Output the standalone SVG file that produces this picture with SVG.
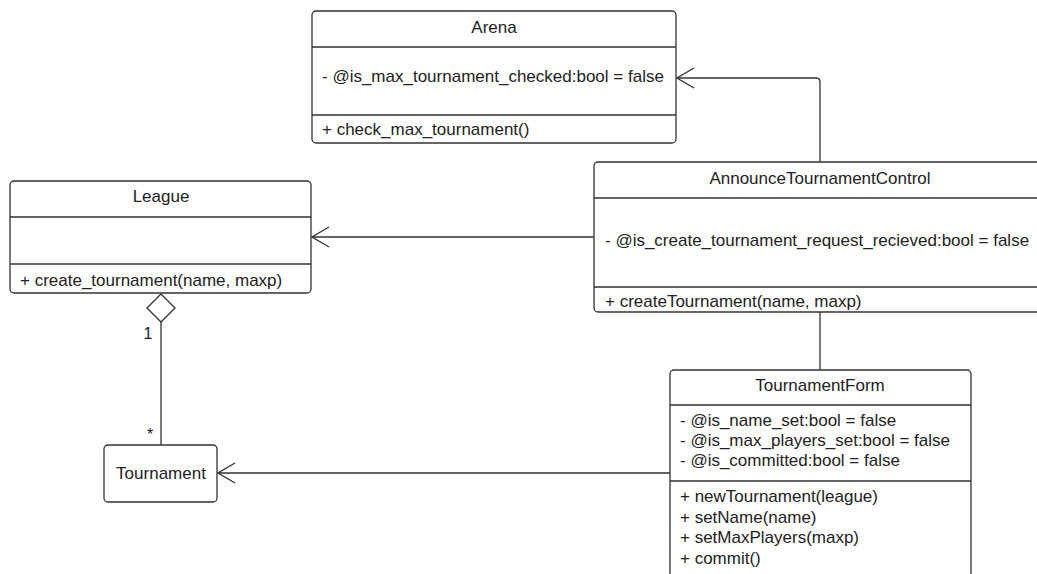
<svg xmlns="http://www.w3.org/2000/svg" width="1037" height="574" viewBox="0 0 1037 574">
  <style>
    .box { fill: #ffffff; stroke: #333333; stroke-width: 1.3; }
    .div { stroke: #333333; stroke-width: 1.3; }
    .edge { fill: none; stroke: #333333; stroke-width: 1.3; }
    text { font-family: "Liberation Sans", Arial, sans-serif; font-size: 17px; fill: #222222; }
    .c { text-anchor: middle; }
    .m { font-size: 16px; }
  </style>
  <defs>
    <!-- open association arrowhead, tip at the path end -->
    <marker id="open" viewBox="0 0 20 22" refX="19" refY="11" markerWidth="20" markerHeight="22" markerUnits="userSpaceOnUse" orient="auto">
      <path d="M2 1 L19 11 L2 21" fill="none" stroke="#333333" stroke-width="1.3"/>
    </marker>
  </defs>
  <rect width="1037" height="574" fill="#ffffff"/>

  <g id="connectors">
    <!-- AnnounceTournamentControl to Arena -->
    <path class="edge" d="M820 162 V82 Q820 78 816 78 H677" marker-end="url(#open)"/>
    <!-- AnnounceTournamentControl to League -->
    <path class="edge" d="M594 237 H312" marker-end="url(#open)"/>
    <!-- AnnounceTournamentControl to TournamentForm -->
    <path class="edge" d="M820 312 V370"/>
    <!-- TournamentForm to Tournament -->
    <path class="edge" d="M670 473 H218" marker-end="url(#open)"/>
    <!-- League aggregation of Tournament -->
    <path class="edge" d="M161 322 V445"/>
    <path class="box" d="M161 294 L175 308 L161 322 L147 308 Z"/>
    <text x="148" y="339" class="c m">1</text>
    <text x="150" y="440" class="c m">*</text>
  </g>

  <g id="arena">
    <rect class="box" x="312" y="11" width="364" height="132" rx="4"/>
    <line class="div" x1="312" y1="47" x2="676" y2="47"/>
    <line class="div" x1="312" y1="115" x2="676" y2="115"/>
    <text x="494" y="33" class="c">Arena</text>
    <text x="322" y="82">- @is_max_tournament_checked:bool = false</text>
    <text x="322" y="135">+ check_max_tournament()</text>
  </g>

  <g id="league">
    <rect class="box" x="10" y="181" width="301" height="112" rx="4"/>
    <line class="div" x1="10" y1="217" x2="311" y2="217"/>
    <line class="div" x1="10" y1="264" x2="311" y2="264"/>
    <text x="161" y="202" class="c">League</text>
    <text x="20" y="286">+ create_tournament(name, maxp)</text>
  </g>

  <g id="announce-tournament-control">
    <rect class="box" x="594" y="162" width="450" height="150" rx="4"/>
    <line class="div" x1="594" y1="198" x2="1037" y2="198"/>
    <line class="div" x1="594" y1="287" x2="1037" y2="287"/>
    <text x="820" y="184" class="c">AnnounceTournamentControl</text>
    <text x="605" y="246">- @is_create_tournament_request_recieved:bool = false</text>
    <text x="605" y="307">+ createTournament(name, maxp)</text>
  </g>

  <g id="tournament-form">
    <rect class="box" x="670" y="370" width="301" height="220" rx="4"/>
    <line class="div" x1="670" y1="405" x2="971" y2="405"/>
    <line class="div" x1="670" y1="481" x2="971" y2="481"/>
    <text x="820" y="391" class="c">TournamentForm</text>
    <text x="680" y="426">- @is_name_set:bool = false</text>
    <text x="680" y="446">- @is_max_players_set:bool = false</text>
    <text x="680" y="466">- @is_committed:bool = false</text>
    <text x="680" y="502">+ newTournament(league)</text>
    <text x="680" y="523">+ setName(name)</text>
    <text x="680" y="543">+ setMaxPlayers(maxp)</text>
    <text x="680" y="564">+ commit()</text>
  </g>

  <g id="tournament">
    <rect class="box" x="104" y="445" width="113" height="57" rx="4"/>
    <text x="161" y="479" class="c">Tournament</text>
  </g>
</svg>
